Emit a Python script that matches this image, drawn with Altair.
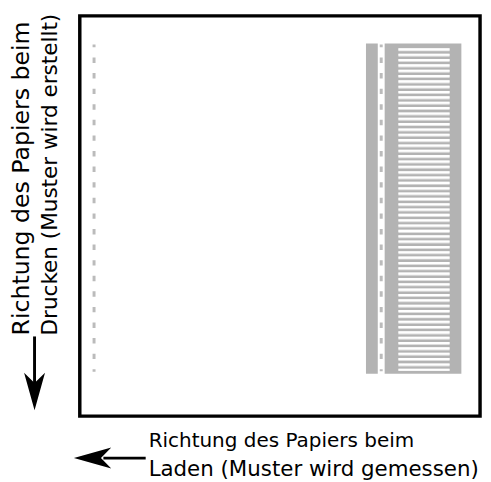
import altair as alt
import pandas as pd

# Diagram geometry (page coordinates of the reference, in px)
frame_box = [81, 488, 12, 419]            # x, x2, y, y2
gray_x = [372, 391]
gray_x2 = [384, 469]
gray_y = [40, 40]
gray_y2 = [376, 376]

dash_x = [95.5, 387.5]
dash_y = [41, 41]
dash_y2 = [374, 373.3]

stripe_x = [431]
stripe_y = [45]
stripe_y2 = [373]

shaft_x = [35, 105]
shaft_x2 = [35, 148]
shaft_y = [338, 461.7]
shaft_y2 = [390, 461.7]

head_x = [35, 94]
head_y = [394, 461.5]
head_angle = [0, 90]

left_lines = ["Richtung des Papiers beim", "Drucken (Muster wird erstellt)"]
left_x = [29, 57.5]
left_y = [337, 337]
left_size = [24.0, 21.9]

bottom_lines = ["Richtung des Papiers beim", "Laden (Muster wird gemessen)"]
bottom_x = [151, 151]
bottom_y = [450, 480]
bottom_size = [20.3, 21.7]

FONT = "DejaVu Sans"
GRAY = "#b3b3b3"

xs = alt.Scale(domain=[8, 491], range=[0, 483])
ys = alt.Scale(domain=[8, 482], range=[0, 474])


def X(f):
    return alt.X(f, type="quantitative", scale=xs, axis=None)


def Y(f):
    return alt.Y(f, type="quantitative", scale=ys, axis=None)


frame_df = pd.DataFrame({"x": [frame_box[0]], "x2": [frame_box[1]],
                         "y": [frame_box[2]], "y2": [frame_box[3]]})
gray_df = pd.DataFrame({"x": gray_x, "x2": gray_x2, "y": gray_y, "y2": gray_y2})
dash_df = pd.DataFrame({"x": dash_x, "y": dash_y, "y2": dash_y2})
stripe_df = pd.DataFrame({"x": stripe_x, "y": stripe_y, "y2": stripe_y2})
shaft_df = pd.DataFrame({"x": shaft_x, "x2": shaft_x2, "y": shaft_y, "y2": shaft_y2})
head_df = pd.DataFrame({"x": head_x, "y": head_y, "a": head_angle})
left_df = pd.DataFrame({"t": left_lines, "x": left_x, "y": left_y, "s": left_size})
bottom_df = pd.DataFrame({"t": bottom_lines, "x": bottom_x, "y": bottom_y, "s": bottom_size})

gray = alt.Chart(gray_df).mark_rect(color=GRAY).encode(
    x=X("x"), x2="x2", y=Y("y"), y2="y2")

stripes_light = alt.Chart(stripe_df).mark_rule(
    color="#dedede", strokeWidth=52, strokeDash=[3.1, 2.33]).encode(
    x=X("x"), y=Y("y"), y2="y2")
stripes_white = alt.Chart(stripe_df).mark_rule(
    color="white", strokeWidth=52, strokeDash=[2.1, 3.33]).encode(
    x=X("x"), y=Y("y"), y2="y2")

dashes = alt.Chart(dash_df).mark_rule(
    color="#bbbbbb", strokeWidth=3, strokeDash=[5.5, 10.35], strokeDashOffset=2.5).encode(
    x=X("x"), y=Y("y"), y2="y2")

frame = alt.Chart(frame_df).mark_rect(
    fill=None, stroke="black", strokeWidth=3.5).encode(
    x=X("x"), x2="x2", y=Y("y"), y2="y2")

shafts = alt.Chart(shaft_df).mark_rule(color="black", strokeWidth=3).encode(
    x=X("x"), x2="x2", y=Y("y"), y2="y2")

heads = alt.Chart(head_df).mark_point(
    shape="M0,1L-0.56,-1L0,-0.45L0.56,-1Z", filled=True, fill="black",
    stroke=None, opacity=1, size=1444).encode(
    x=X("x"), y=Y("y"), angle=alt.Angle("a:Q", scale=None))

left_text = alt.Chart(left_df).mark_text(
    font=FONT, angle=270, align="left", baseline="alphabetic",
    color="black").encode(x=X("x"), y=Y("y"), text="t",
                          size=alt.Size("s:Q", scale=None))

bottom_text = alt.Chart(bottom_df).mark_text(
    font=FONT, align="left", baseline="alphabetic",
    color="black").encode(x=X("x"), y=Y("y"), text="t",
                          size=alt.Size("s:Q", scale=None))

chart = alt.layer(
    gray, stripes_light, stripes_white, dashes, frame, shafts, heads,
    left_text, bottom_text
).properties(
    width=483, height=474, padding=0,
    autosize=alt.AutoSizeParams(type="none")
).configure_view(stroke=None)

chart.save("out.html", embed_options={"renderer": "svg", "actions": False})
